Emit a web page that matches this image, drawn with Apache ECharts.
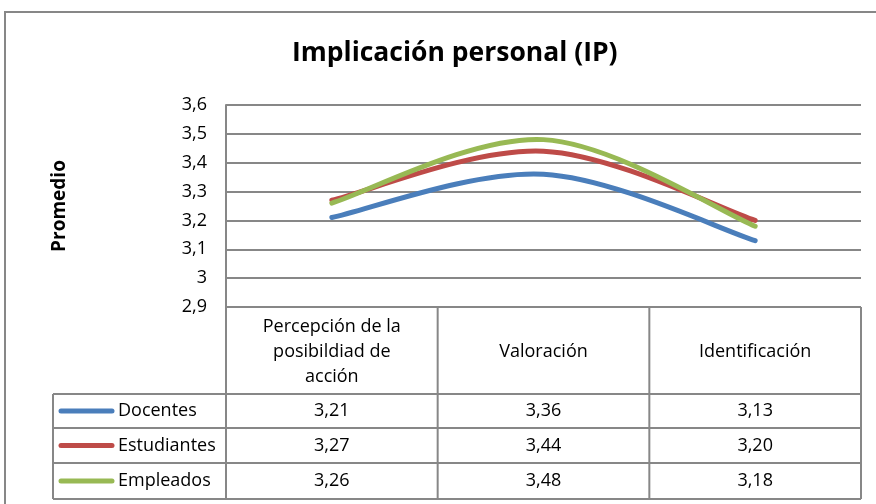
<!DOCTYPE html>
<html><head><meta charset="utf-8">
<script src="https://cdn.jsdelivr.net/npm/echarts@6/dist/echarts.min.js"></script>
<style>html,body{margin:0;padding:0;background:#fff}#c{width:876px;height:504px}</style>
</head><body><div id="c"></div>
<script>
const categories = ['Percepción de la\nposibildiad de\nacción', 'Valoración', 'Identificación'];
const seriesNames = ['Docentes', 'Estudiantes', 'Empleados'];
const docentes = [3.21, 3.36, 3.13];
const estudiantes = [3.27, 3.44, 3.20];
const empleados = [3.26, 3.48, 3.18];
const colors = ['#4a7ebb', '#be4b48', '#98b954'];
const yTicks = [2.9, 3.0, 3.1, 3.2, 3.3, 3.4, 3.5, 3.6];

const FONT = "'Open Sans', sans-serif";
const FS = 18;
const GRID = {left: 226, right: 15, top: 105, bottom: 197};
const W = 876, H = 504;
const gray = '#878787';
const allData = [docentes, estudiantes, empleados];

const chart = echarts.init(document.getElementById('c'));
const fmt = v => String(v).replace('.', ',');

// Excel-like smoothed line (Catmull-Rom through the data points, via axis coords)
function smoothRenderer(values, color) {
  return function (params, api) {
    if (params.dataIndex !== 0) return null;
    const P = values.map((v, j) => api.coord([j, v]));
    const n = P.length;
    const at = k => P[Math.max(0, Math.min(n - 1, k))];
    let d = 'M' + P[0][0] + ' ' + P[0][1];
    for (let i = 0; i < n - 1; i++) {
      const p0 = at(i - 1), p1 = at(i), p2 = at(i + 1), p3 = at(i + 2);
      const c1 = [p1[0] + (p2[0] - p0[0]) / 6, p1[1] + (p2[1] - p0[1]) / 6];
      const c2 = [p2[0] - (p3[0] - p1[0]) / 6, p2[1] - (p3[1] - p1[1]) / 6];
      d += ' C' + c1.join(' ') + ' ' + c2.join(' ') + ' ' + p2.join(' ');
    }
    return {type: 'path', shape: {pathData: d},
      style: {stroke: color, lineWidth: 5, fill: 'none', lineCap: 'round', lineJoin: 'round'}};
  };
}

chart.setOption({
  animation: false,
  title: {text: 'Implicación personal (IP)', left: 287, top: 35,
    textStyle: {fontFamily: FONT, fontWeight: 'bold', fontSize: 26.5, color: '#000'}},
  grid: GRID,
  xAxis: {type: 'category', data: categories, boundaryGap: true,
    axisLine: {show: false}, axisTick: {show: false}, axisLabel: {show: false}},
  yAxis: {type: 'value', min: 2.9, max: 3.6, interval: 0.1,
    name: 'Promedio', nameLocation: 'middle', nameGap: 157, nameRotate: 90,
    nameTextStyle: {fontFamily: FONT, fontWeight: 'bold', fontSize: 19, color: '#000'},
    axisLine: {show: true, lineStyle: {color: gray, width: 2}},
    axisTick: {show: false},
    axisLabel: {fontFamily: FONT, fontSize: FS, color: '#000', margin: 19,
      formatter: v => { const t = yTicks.find(x => Math.abs(x - v) < 1e-6); return t === undefined ? '' : (Number.isInteger(t) ? String(t) : fmt(t.toFixed(1))); }},
    splitLine: {lineStyle: {color: gray, width: 2}}},
  series: seriesNames.map((n, i) => ({
    name: n, type: 'custom', coordinateSystem: 'cartesian2d', clip: false,
    data: allData[i].map((v, j) => [j, v]),
    renderItem: smoothRenderer(allData[i], colors[i])
  }))
});

// data table
const x0 = GRID.left, x1 = W - GRID.right;
const yAxisBottom = H - GRID.bottom;
const headerBottom = 394;
const rowYs = [headerBottom, 428, 463, 499];
const legendLeft = 53;
const bounds = [x0];
categories.forEach((c, i) => bounds.push(x0 + (x1 - x0) * (i + 1) / categories.length));
const centers = categories.map((c, i) => chart.convertToPixel({xAxisIndex: 0}, i));
const ls = {stroke: gray, lineWidth: 2};
const g = [];
// outer chart border
g.push({type: 'polyline', shape: {points: [[5, H], [5, 12], [W, 12]]}, style: {stroke: gray, lineWidth: 2, fill: null}});
// horizontal lines
g.push({type: 'line', shape: {x1: x0, y1: yAxisBottom, x2: x1, y2: yAxisBottom}, style: ls});
rowYs.forEach(y => g.push({type: 'line', shape: {x1: legendLeft, y1: y, x2: x1, y2: y}, style: ls}));
// vertical lines
g.push({type: 'line', shape: {x1: x0, y1: yAxisBottom, x2: x0, y2: rowYs[3]}, style: ls});
bounds.slice(1).forEach(x => g.push({type: 'line', shape: {x1: x, y1: yAxisBottom, x2: x, y2: rowYs[3]}, style: ls}));
g.push({type: 'line', shape: {x1: legendLeft, y1: headerBottom, x2: legendLeft, y2: rowYs[3]}, style: ls});
// headers
categories.forEach((c, i) => g.push({type: 'text', x: centers[i], y: (yAxisBottom + headerBottom) / 2 + 1,
  style: {text: c, fontFamily: FONT, fontSize: FS, lineHeight: 25, fill: '#000', align: 'center', verticalAlign: 'middle'}}));
// rows
seriesNames.forEach((n, r) => {
  const yc = (rowYs[r] + rowYs[r + 1]) / 2;
  g.push({type: 'line', shape: {x1: 61, y1: yc, x2: 112, y2: yc}, style: {stroke: colors[r], lineWidth: 5, lineCap: 'round'}});
  g.push({type: 'text', x: 118, y: yc, style: {text: n, fontFamily: FONT, fontSize: FS, fill: '#000', align: 'left', verticalAlign: 'middle'}});
  allData[r].forEach((v, i) => g.push({type: 'text', x: centers[i], y: yc,
    style: {text: fmt(v.toFixed(2)), fontFamily: FONT, fontSize: FS, fill: '#000', align: 'center', verticalAlign: 'middle'}}));
});
chart.setOption({graphic: {elements: g}});
</script></body></html>
